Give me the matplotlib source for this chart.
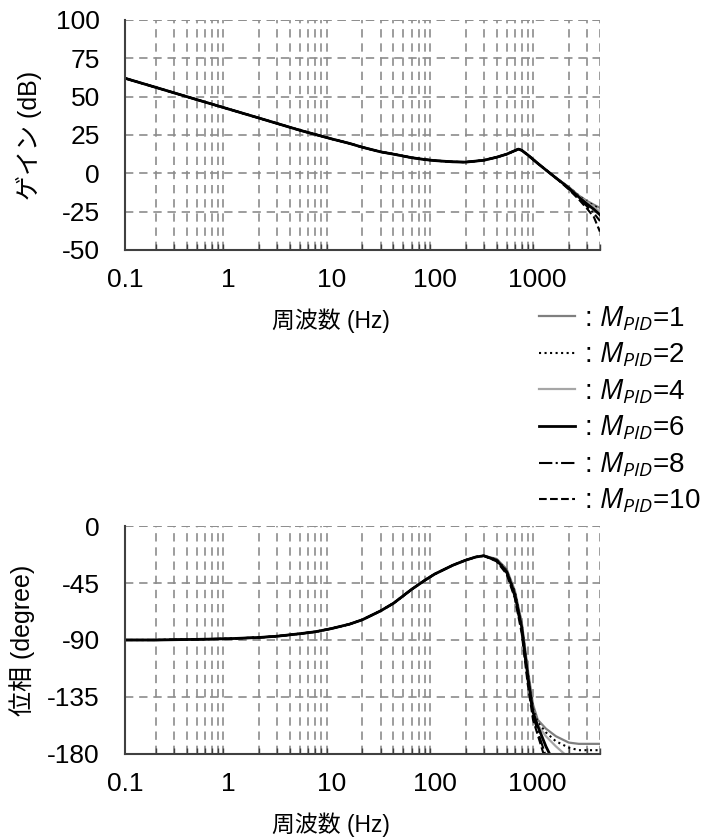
import matplotlib
matplotlib.use("Agg")
import matplotlib.pyplot as plt
from matplotlib.ticker import LogLocator, NullFormatter, FixedLocator

plt.rcParams['font.family'] = ['Liberation Sans', 'Noto Sans CJK JP']
plt.rcParams['axes.unicode_minus'] = False
plt.rcParams['mathtext.fontset'] = 'custom'
plt.rcParams['mathtext.rm'] = 'Open Sans'
plt.rcParams['mathtext.it'] = 'Open Sans:italic'

# series
m_pid = [1, 2, 4, 6, 8, 10]
styles = {1: ('-', '#7f7f7f', 1.6), 2: (':', 'black', 1.5), 4: ('-', '#a6a6a6', 1.6),
          6: ('-', 'black', 2.0), 8: ('-.', 'black', 1.5), 10: ('--', 'black', 1.5)}

# gain (dB), shared part
gain_freq = [0.1, 0.2, 0.5, 1, 2, 5, 10, 15, 20, 30, 40, 60, 80, 100, 150, 200,
             300, 400, 500, 600, 650, 700, 800, 1000, 1200, 1500]
gain_common = [62, 56, 48, 42, 36, 28, 22.5, 19.5, 17, 14, 12.5, 10.2, 9, 8.3, 7.5, 7.3,
               8.5, 10.5, 12.5, 14.8, 15.8, 15, 12, 6.5, 2.2, -3]
# gain tails per series
gain_tail_freq = [2000, 2500, 3000, 3500, 4000]
gain_tail = {
    1: [-9, -14.5, -18, -20.5, -22.5],
    2: [-9, -14.5, -18.5, -21, -23.5],
    4: [-9, -15, -19, -22, -25],
    6: [-9.5, -15.5, -20, -23.5, -27],
    8: [-10, -16.5, -21.5, -26, -31],
    10: [-10.5, -17, -23, -28.5, -38],
}

# phase (degree), shared part
phase_freq = [0.1, 0.2, 0.5, 1, 2, 3, 5, 7, 10, 15, 20, 30, 40, 60, 80, 100, 150, 200, 250, 300]
phase_common = [-90, -90, -89.5, -89, -88, -87, -85, -83.5, -81, -77.5, -74, -67, -61, -50,
                -43, -38, -31, -27, -24.5, -23.5]
phase_tail_freq = [400, 500, 600, 700, 800, 900, 1000, 1200, 1500, 2000, 2500, 3000, 4000]
phase_tail = {
    1: [-26, -34, -51, -76, -113, -141, -153, -160, -166, -171, -172, -172, -172],
    2: [-26.5, -35, -52, -78, -116, -144, -155, -163, -170, -175, -177, -177, -177],
    4: [-27, -36, -54, -80, -118, -146, -157, -166, -174, -183, -188, -190, -190],
    6: [-27, -36, -54, -80, -118, -147, -158, -174, -190, -200, -200, -200, -200],
    8: [-27.5, -37, -56, -83, -122, -150, -162, -182, -195, -200, -200, -200, -200],
    10: [-28, -38, -57, -85, -125, -153, -165, -186, -200, -200, -200, -200, -200],
}

grid_kw = dict(color='#8c8c8c', linestyle=(0, (5, 3.5)), linewidth=1.2)
fs = 19


def style_axis(ax, ylim, yticks, ylabel, ylab_x):
    ax.set_xscale('log')
    ax.set_xlim(0.1, 4000)
    ax.set_ylim(*ylim)
    ax.set_yticks(yticks)
    ax.xaxis.set_major_locator(FixedLocator([0.1, 1, 10, 100, 1000]))
    ax.set_xticklabels(['0.1', '1', '10', '100', '1000'])
    ax.xaxis.set_minor_locator(LogLocator(base=10, subs=range(2, 10), numticks=20))
    ax.xaxis.set_minor_formatter(NullFormatter())
    ax.grid(True, which='minor', axis='x', **grid_kw)
    ax.grid(True, which='major', axis='y', **grid_kw)
    ax.axhline(ylim[1], zorder=0, **grid_kw)
    ax.tick_params(axis='x', which='major', length=0, labelsize=fs, pad=13)
    ax.tick_params(axis='x', which='minor', direction='in', length=4, width=1, color='#404040')
    ax.tick_params(axis='y', length=0, labelsize=fs, pad=18)
    for s in ['top', 'right']:
        ax.spines[s].set_visible(False)
    for s in ['left', 'bottom']:
        ax.spines[s].set_color('#404040')
        ax.spines[s].set_linewidth(1.5)
    ax.set_xlabel('周波数 (Hz)', fontsize=16.5, va='top')
    ax.xaxis.set_label_coords(0.434, -0.255)
    ax.set_ylabel(ylabel, fontsize=18)
    ax.yaxis.set_label_coords(ylab_x, 0.5)
    ax.set_axisbelow(True)


fig = plt.figure(figsize=(7.25, 8.4), dpi=100)
ax1 = fig.add_axes([0.1724, 0.7024, 0.655, 0.2738])
ax2 = fig.add_axes([0.1724, 0.1024, 0.655, 0.2714])

for m in m_pid:
    ls, c, lw = styles[m]
    ax1.plot(gain_freq + gain_tail_freq, gain_common + gain_tail[m], linestyle=ls, color=c,
             linewidth=lw, label=': $M_{PID}$=%d' % m)
    ax2.plot(phase_freq + phase_tail_freq, phase_common + phase_tail[m], linestyle=ls, color=c,
             linewidth=lw)

style_axis(ax1, (-50, 100), [-50, -25, 0, 25, 50, 75, 100], 'ゲイン (dB)', -0.175)
style_axis(ax2, (-180, 0), [-180, -135, -90, -45, 0], '位相 (degree)', -0.19)

leg = fig.legend(loc='upper left', bbox_to_anchor=(528 / 725, 1 - 293 / 840), frameon=False,
                 fontsize=20, handlelength=1.3, handletextpad=0.3, labelspacing=0.29,
                 borderaxespad=0)

fig.savefig('out.png', dpi=100)
